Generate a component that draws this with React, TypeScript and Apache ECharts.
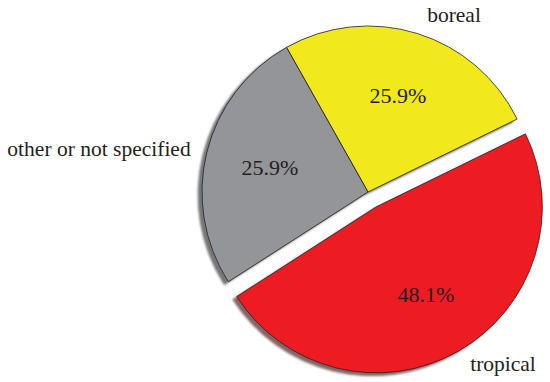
import React, { useEffect, useRef } from "react";
import * as echarts from "echarts";

const categories = ["boreal", "tropical", "other or not specified"];
const values = [25.9, 48.1, 25.9];
const colors = ["#f2e91a", "#ed1c24", "#939598"];
const explodedIndex = 1;
const outerLabelPos: [number, number][] = [
  [454, 15],
  [503, 364],
  [99, 149],
];

export default function App() {
  const ref = useRef<HTMLDivElement>(null);
  useEffect(() => {
    document.body.style.margin = "0";
    const chart = echarts.init(ref.current!, null, { renderer: "svg" });
    const font = "serif";
    const center = [368, 192];
    const mkData = (withStyle: boolean) =>
      categories.map((name, i) => ({
        name,
        value: values[i],
        selected: i === explodedIndex,
        itemStyle: withStyle
          ? {
              color: colors[i],
              borderColor: "#231f20",
              borderWidth: 0.8,
              shadowColor: i === 1 ? "rgba(90,50,50,0.75)" : "rgba(60,60,60,0.7)",
              shadowBlur: 2,
              shadowOffsetX: -4,
              shadowOffsetY: 3,
            }
          : { color: "rgba(0,0,0,0)", borderWidth: 0 },
      }));
    chart.setOption({
      animation: false,
      series: [
        {
          type: "pie",
          center,
          radius: [0, 166],
          startAngle: 119.4,
          clockwise: true,
          selectedMode: "single",
          selectedOffset: 17,
          silent: true,
          label: { show: false },
          labelLine: { show: false },
          emphasis: { disabled: true },
          data: mkData(true),
        },
        {
          type: "pie",
          center,
          radius: [0, 196],
          startAngle: 119.4,
          clockwise: true,
          selectedMode: "single",
          selectedOffset: 17,
          silent: true,
          label: {
            show: true,
            position: "inside",
            formatter: (p: any) => p.value.toFixed(1) + "%",
            fontFamily: font,
            fontSize: 22,
            color: "#231f20",
          },
          labelLine: { show: false },
          emphasis: { disabled: true },
          data: mkData(false),
        },
        {
          type: "pie",
          center,
          radius: [0, 166],
          startAngle: 119.4,
          clockwise: true,
          silent: true,
          label: {
            show: true,
            position: "outside",
            formatter: "{b}",
            fontFamily: font,
            fontSize: 21.5,
            color: "#231f20",
            overflow: "none",
            width: 300,
          },
          labelLine: { show: false },
          labelLayout: (params: any) => ({
            x: outerLabelPos[params.dataIndex][0],
            y: outerLabelPos[params.dataIndex][1],
            align: "center",
            verticalAlign: "middle",
          }),
          emphasis: { disabled: true },
          data: mkData(false),
        },
      ],
    });
    return () => chart.dispose();
  }, []);
  return <div ref={ref} style={{ width: 550, height: 382 }} />;
}
